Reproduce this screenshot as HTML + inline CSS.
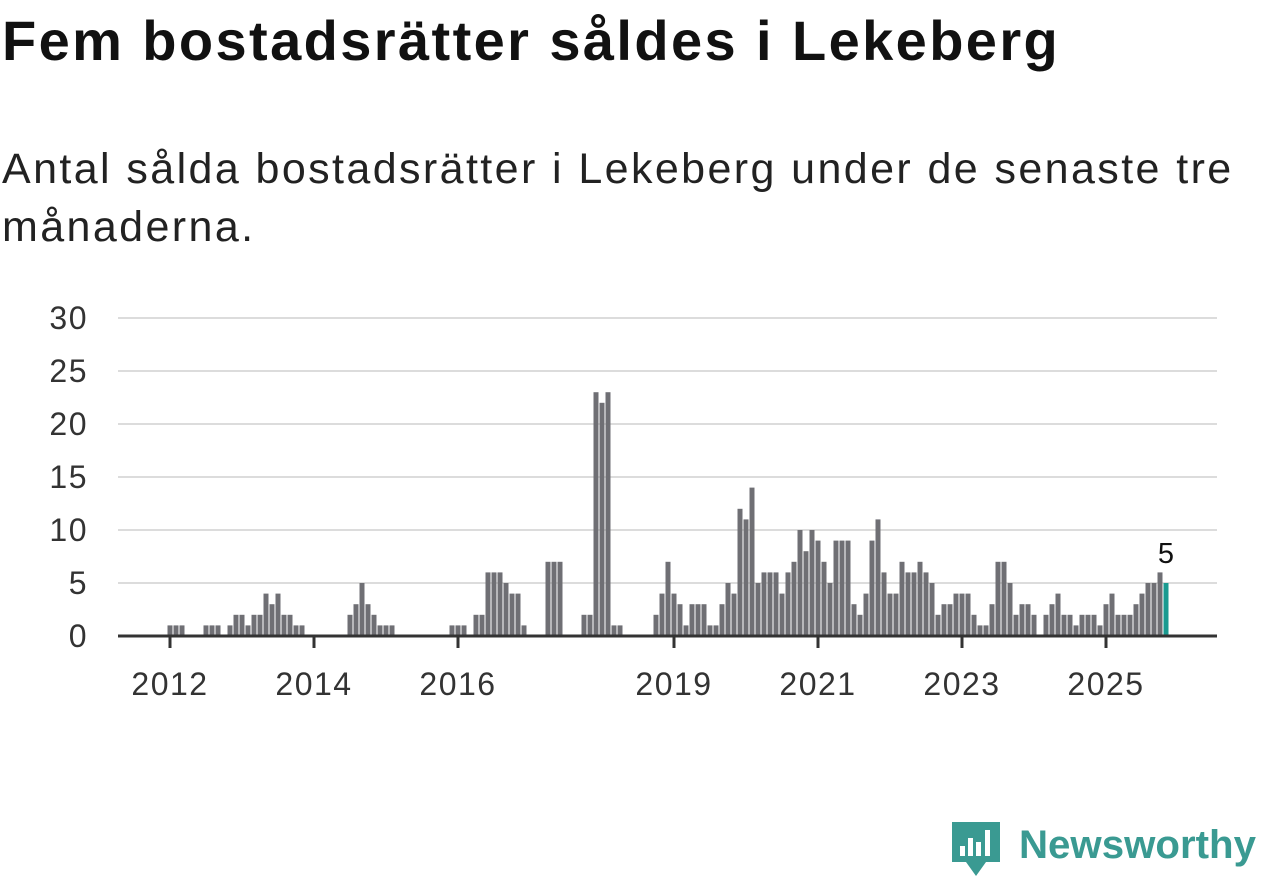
<!DOCTYPE html>
<html><head><meta charset="utf-8"><style>
body{margin:0;width:1262px;height:879px;background:#fff;font-family:"Liberation Sans","DejaVu Sans",sans-serif;overflow:hidden;position:relative}
h1{position:absolute;left:2px;top:8px;margin:0;font-size:56px;font-weight:bold;color:#111;letter-spacing:2.4px;white-space:nowrap}
p.sub{position:absolute;left:2px;top:140px;margin:0;font-size:43px;line-height:58px;color:#222;letter-spacing:2.4px;white-space:nowrap}
svg{position:absolute;left:0;top:0}
</style></head><body>
<h1>Fem bostadsrätter såldes i Lekeberg</h1>
<p class="sub">Antal sålda bostadsrätter i Lekeberg under de senaste tre<br>månaderna.</p>
<svg id="chart" width="1262" height="879"></svg>
<svg width="1262" height="879" style="pointer-events:none">
<path d="M952 822 h48 v40 h-14 l-10 14 l-10 -14 h-14 z" fill="#3a9a92"/>
<rect x="960" y="846" width="5" height="10" fill="#fff"/><rect x="968" y="838" width="5" height="18" fill="#fff"/><rect x="976" y="842" width="5" height="14" fill="#fff"/><rect x="985" y="830" width="5" height="26" fill="#fff"/>
<text x="1019" y="858" font-size="40" font-weight="bold" fill="#3a9a92" textLength="237" lengthAdjust="spacingAndGlyphs" font-family="Liberation Sans, sans-serif">Newsworthy</text>
</svg>
<script>
const values=[1,1,1,0,0,0,1,1,1,0,1,2,2,1,2,2,4,3,4,2,2,1,1,0,0,0,0,0,0,0,2,3,5,3,2,1,1,1,0,0,0,0,0,0,0,0,0,1,1,1,0,2,2,6,6,6,5,4,4,1,0,0,0,7,7,7,0,0,0,2,2,23,22,23,1,1,0,0,0,0,0,2,4,7,4,3,1,3,3,3,1,1,3,5,4,12,11,14,5,6,6,6,4,6,7,10,8,10,9,7,5,9,9,9,3,2,4,9,11,6,4,4,7,6,6,7,6,5,2,3,3,4,4,4,2,1,1,3,7,7,5,2,3,3,2,0,2,3,4,2,2,1,2,2,2,1,3,4,2,2,2,3,4,5,5,6,5];
const startYear=2012;
const yTicks=[0,5,10,15,20,25,30];
const xTickYears=[2012,2014,2016,2019,2021,2023,2025];
const NS="http://www.w3.org/2000/svg";
const svg=document.getElementById('chart');
const x0=170,pxMonth=6,yBase=636,pxUnit=10.6;
function xm(i){return x0+i*pxMonth;}
function yv(v){return yBase-v*pxUnit;}
function mk(t,a){const e=document.createElementNS(NS,t);for(const k in a)e.setAttribute(k,a[k]);svg.appendChild(e);return e;}
yTicks.forEach(t=>{
  const g=mk('line',{x1:118,x2:1217,y1:yv(t),y2:yv(t),stroke:'#dcdcdc','stroke-width':2});
  
  
  const l=mk('text',{x:88,y:yv(t)+11,'text-anchor':'end','font-size':32,'letter-spacing':1.5,fill:'#333'});
  l.textContent=t;
  
  
});
values.forEach((v,i)=>{
  if(v<=0)return;
  const last=i===values.length-1;
  const r=mk('rect',{x:xm(i)-2.5,y:yv(v),width:5,height:v*pxUnit,fill:last?'#1a9a90':'#6f6f74'});
  
  
});
const li=values.length-1;
const lab=mk('text',{x:xm(li),y:yv(values[li])-20,'text-anchor':'middle','font-size':29,fill:'#111'});
lab.textContent=values[li];


const ax=mk('line',{x1:118,x2:1217,y1:yBase,y2:yBase,stroke:'#333','stroke-width':3});


xTickYears.forEach(yr=>{
  const x=xm((yr-startYear)*12);
  const t=mk('line',{x1:x,x2:x,y1:yBase,y2:yBase+12,stroke:'#333','stroke-width':3});
  
  
  const l=mk('text',{x:x,y:yBase+59,'text-anchor':'middle','font-size':32,'letter-spacing':1.5,fill:'#333'});
  l.textContent=yr;
  
  
});
</script>
</body></html>
